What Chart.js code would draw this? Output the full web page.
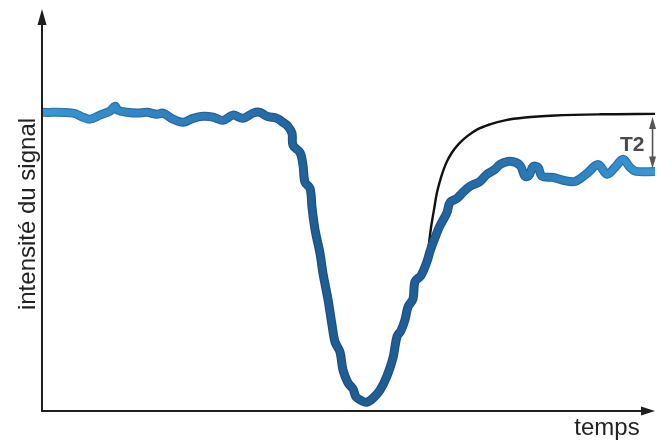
<!DOCTYPE html>
<html>
<head>
<meta charset="utf-8">
<script src="https://cdn.jsdelivr.net/npm/chart.js@4"></script>
<style>
  html, body { margin: 0; padding: 0; background: #ffffff; }
  #wrap { width: 657px; height: 441px; }
</style>
</head>
<body>
<div id="wrap"><canvas id="c" width="657" height="441"></canvas></div>
<script>
// Measured signal: time (arbitrary units) and intensity (arbitrary units)
const signalTime = [
  0.0, 5.06, 6.69, 7.83, 9.46, 11.09, 11.91, 12.40, 13.87, 15.50,
  17.13, 18.76, 19.74, 21.37, 23.00, 24.63, 26.26, 27.90, 29.53, 31.16,
  32.79, 34.42, 35.56, 36.70, 38.34, 39.31, 40.13, 40.78, 40.95, 42.09,
  42.58, 42.90, 43.72, 44.05, 44.54, 45.35, 45.84, 46.66, 47.31, 47.80,
  48.61, 49.10, 49.92, 50.73, 51.22, 52.20, 53.02, 54.00, 55.14, 56.28,
  57.26, 57.91, 58.56, 59.22, 59.71, 60.52, 60.85, 61.83, 62.81, 63.30,
  64.11, 64.93, 66.07, 66.56, 67.70, 68.68, 69.82, 71.45, 72.59, 73.90,
  74.71, 76.35, 77.98, 78.79, 79.45, 80.10, 80.91, 81.57, 83.36, 84.99,
  86.95, 88.91, 90.70, 92.17, 93.47, 94.78, 95.92, 96.90, 100.0
];
const signalIntensity = [
  74.3, 74.1, 73.1, 72.6, 73.6, 74.6, 75.8, 74.8, 74.3, 74.1,
  74.3, 73.8, 74.1, 72.6, 71.8, 72.8, 73.3, 73.1, 72.3, 73.6,
  72.8, 74.1, 74.3, 73.3, 72.8, 71.8, 70.8, 69.1, 66.1, 64.3,
  61.1, 56.9, 55.4, 50.6, 45.1, 39.2, 34.2, 27.7, 21.4, 17.2,
  14.7, 10.2, 7.0, 5.5, 3.5, 2.5, 2.2, 3.2, 5.2, 8.7,
  13.2, 18.5, 20.0, 22.7, 25.9, 27.9, 32.2, 33.7, 37.2, 39.7,
  43.1, 46.1, 49.4, 51.9, 52.9, 54.4, 55.9, 57.1, 58.9, 60.1,
  61.3, 62.1, 61.1, 58.4, 58.6, 60.8, 60.6, 58.4, 58.1, 57.4,
  57.1, 59.1, 61.3, 58.9, 60.6, 62.6, 60.6, 59.6, 59.6
];

// Ideal recovery without T2 loss
const recoveryTime = [
  62.97, 63.46, 63.95, 64.44, 65.09, 65.91, 66.88, 68.03,
  69.33, 70.96, 73.08, 75.53, 78.79, 83.69, 91.03, 100.0
];
const recoveryIntensity = [
  39.7, 45.6, 50.1, 54.4, 58.1, 61.6, 64.3, 66.5,
  68.3, 70.0, 71.3, 72.3, 73.0, 73.5, 73.8, 73.9
];

const axisTitles = ['temps', 'intensité du signal'];
const gapLabel = 'T2';
const gapTime = 99.6;

function points(xs, ys) {
  return xs.map((x, i) => ({ x: x, y: ys[i] }));
}

function blueGradient(ctx, area, dark) {
  const g = ctx.createLinearGradient(area.left, 0, area.right, 0);
  if (dark) {
    g.addColorStop(0.00, '#2a7ab6');
    g.addColorStop(0.30, '#235f95');
    g.addColorStop(0.45, '#1a4f80');
    g.addColorStop(0.62, '#1a5084');
    g.addColorStop(0.75, '#205f96');
    g.addColorStop(1.00, '#2a7ab6');
  } else {
    g.addColorStop(0.00, '#3996d4');
    g.addColorStop(0.30, '#2b78b4');
    g.addColorStop(0.45, '#1f5d93');
    g.addColorStop(0.62, '#1f5e96');
    g.addColorStop(0.75, '#2872ae');
    g.addColorStop(1.00, '#3a98d5');
  }
  return g;
}

const axesPlugin = {
  id: 'arrowAxes',
  afterDatasetsDraw(chart) {
    const { ctx, chartArea, scales } = chart;
    const x0 = scales.x.getPixelForValue(0);
    const y0 = scales.y.getPixelForValue(0);
    const xEnd = chartArea.right;
    const yTop = chartArea.top;
    ctx.save();
    ctx.strokeStyle = '#1e1e1e';
    ctx.fillStyle = '#1e1e1e';
    ctx.lineWidth = 2;
    // vertical axis
    ctx.beginPath();
    ctx.moveTo(x0, y0 + 1);
    ctx.lineTo(x0, yTop + 12);
    ctx.stroke();
    ctx.beginPath();
    ctx.moveTo(x0, yTop);
    ctx.lineTo(x0 - 4.5, yTop + 16);
    ctx.lineTo(x0 + 4.5, yTop + 16);
    ctx.closePath();
    ctx.fill();
    // horizontal axis
    ctx.beginPath();
    ctx.moveTo(x0 - 1, y0);
    ctx.lineTo(xEnd - 10, y0);
    ctx.stroke();
    ctx.beginPath();
    ctx.moveTo(xEnd, y0);
    ctx.lineTo(xEnd - 14, y0 - 4.5);
    ctx.lineTo(xEnd - 14, y0 + 4.5);
    ctx.closePath();
    ctx.fill();

    // axis titles
    ctx.fillStyle = '#222222';
    ctx.font = '24px "Liberation Sans", Arial, sans-serif';
    ctx.textAlign = 'center';
    ctx.textBaseline = 'alphabetic';
    ctx.fillText(axisTitles[0], 607, y0 + 24);
    ctx.translate(35, 214);
    ctx.rotate(-Math.PI / 2);
    ctx.fillText(axisTitles[1], 0, 0);
    ctx.restore();

    // T2 gap marker
    const gx = scales.x.getPixelForValue(gapTime);
    const gTop = scales.y.getPixelForValue(recoveryIntensity[recoveryIntensity.length - 1]) + 3;
    const gBot = scales.y.getPixelForValue(signalIntensity[signalIntensity.length - 1]) - 3;
    ctx.save();
    ctx.strokeStyle = '#555555';
    ctx.fillStyle = '#555555';
    ctx.lineWidth = 1.6;
    ctx.beginPath();
    ctx.moveTo(gx, gTop + 8);
    ctx.lineTo(gx, gBot - 8);
    ctx.stroke();
    ctx.beginPath();
    ctx.moveTo(gx, gTop);
    ctx.lineTo(gx - 3.5, gTop + 12);
    ctx.lineTo(gx + 3.5, gTop + 12);
    ctx.closePath();
    ctx.fill();
    ctx.beginPath();
    ctx.moveTo(gx, gBot);
    ctx.lineTo(gx - 3.5, gBot - 12);
    ctx.lineTo(gx + 3.5, gBot - 12);
    ctx.closePath();
    ctx.fill();
    ctx.fillStyle = '#4a4a4a';
    ctx.font = 'bold 21px "Liberation Sans", Arial, sans-serif';
    ctx.textAlign = 'right';
    ctx.textBaseline = 'alphabetic';
    ctx.fillText(gapLabel, gx - 8, (gTop + gBot) / 2 + 8);
    ctx.restore();
  }
};

new Chart(document.getElementById('c'), {
  type: 'line',
  data: {
    datasets: [
      {
        data: points(signalTime, signalIntensity),
        borderColor: (c) => c.chart.chartArea ? blueGradient(c.chart.ctx, c.chart.chartArea, false) : '#2b78b4',
        borderWidth: 6.5,
        tension: 0.35,
        borderJoinStyle: 'round',
        borderCapStyle: 'butt',
        pointRadius: 0,
        fill: false,
        order: 1
      },
      {
        data: points(signalTime, signalIntensity),
        borderColor: (c) => c.chart.chartArea ? blueGradient(c.chart.ctx, c.chart.chartArea, true) : '#235f95',
        borderWidth: 9,
        tension: 0.35,
        borderJoinStyle: 'round',
        borderCapStyle: 'butt',
        pointRadius: 0,
        fill: false,
        order: 2
      },
      {
        data: points(recoveryTime, recoveryIntensity),
        borderColor: '#111111',
        borderWidth: 2.4,
        cubicInterpolationMode: 'monotone',
        pointRadius: 0,
        fill: false,
        order: 3
      }
    ]
  },
  options: {
    responsive: false,
    animation: false,
    layout: { padding: { left: 42, right: 2, top: 9, bottom: 30 } },
    plugins: { legend: { display: false }, tooltip: { enabled: false } },
    scales: {
      x: { type: 'linear', min: 0, max: 100, display: false },
      y: { type: 'linear', min: 0, max: 100, display: false }
    }
  },
  plugins: [axesPlugin]
});
</script>
</body>
</html>
